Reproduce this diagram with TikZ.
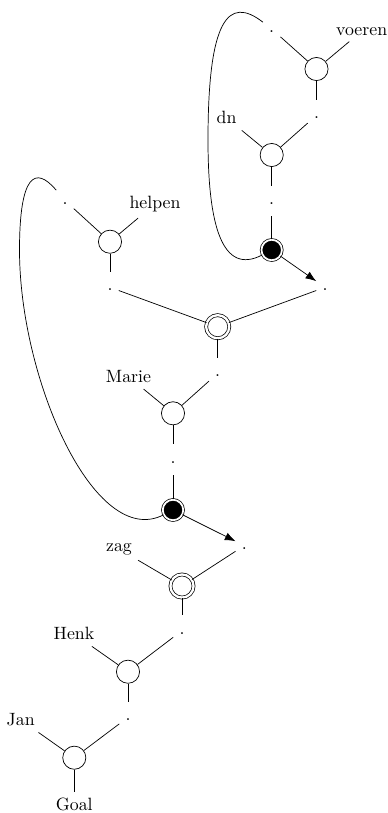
\documentclass[tikz,border=0pt]{standalone}
\usetikzlibrary{arrows.meta}
\begin{document}
\begin{tikzpicture}[x=0.5618pt,y=-0.5618pt,
  circ/.style={circle,draw,minimum size=13pt,inner sep=0pt},
  dcirc/.style={circle,draw,double,double distance=1.3pt,minimum size=13pt,inner sep=0pt},
  bcirc/.style={circle,draw,double,double distance=1pt,fill=black,minimum size=11.5pt,inner sep=0pt},
  dotn/.style={inner sep=3.33pt,text height=7pt,text depth=3pt},
  lbl/.style={inner sep=3.33pt},
  arr/.style={-{Latex[length=6pt,width=4.5pt]}}]
\useasboundingbox (0,0) rectangle (388,813);
% nodes
\node[dotn] (d1) at (271.7,29) {.};
\node[lbl] (voeren) at (361.7,31.2) {voeren};
\node[circ] (c1) at (316.5,69) {};
\node[dotn] (d2) at (316.5,115.3) {.};
\node[lbl] (dn) at (226.5,117.8) {dn};
\node[circ] (c2) at (271.7,155) {};
\node[dotn] (d3) at (271.7,201.3) {.};
\node[bcirc] (b1) at (271.7,250) {};
\node[dotn] (d4) at (325,287.3) {.};
\node[dotn] (d5) at (65,200.6) {.};
\node[lbl] (helpen) at (155,203.9) {helpen};
\node[circ] (c3) at (110,241.7) {};
\node[dotn] (d6) at (110,287.3) {.};
\node[dcirc] (dc1) at (217.7,326.7) {};
\node[lbl] (marie) at (128.5,376.6) {Marie};
\node[dotn] (d7) at (217.7,373.3) {.};
\node[circ] (c4) at (173,413.3) {};
\node[dotn] (d8) at (173,459.6) {.};
\node[bcirc] (b2) at (173,510) {};
\node[dotn] (d9) at (244.3,545.6) {.};
\node[lbl] (zag) at (119,549) {zag};
\node[dcirc] (dc2) at (182,586) {};
\node[dotn] (d10) at (182,630.6) {.};
\node[lbl] (henk) at (74,633.8) {Henk};
\node[circ] (c5) at (128,671.7) {};
\node[dotn] (d11) at (128,717.3) {.};
\node[lbl] (jan) at (20.7,719.9) {Jan};
\node[circ] (c6) at (74.3,757.7) {};
\node[lbl] (goal) at (74.3,804.8) {Goal};
% tree edges
\draw (c1) -- (d1);
\draw (c1) -- (voeren);
\draw (c1) -- (d2);
\draw (c2) -- (dn);
\draw (c2) -- (d2);
\draw (c2) -- (d3);
\draw (b1) -- (d3);
\draw[arr] (b1) -- (d4);
\draw (c3) -- (d5);
\draw (c3) -- (helpen);
\draw (c3) -- (d6);
\draw (dc1) -- (d6);
\draw (dc1) -- (d4);
\draw (dc1) -- (d7);
\draw (c4) -- (marie);
\draw (c4) -- (d7);
\draw (c4) -- (d8);
\draw (b2) -- (d8);
\draw[arr] (b2) -- (d9);
\draw (dc2) -- (zag);
\draw (dc2) -- (d9);
\draw (dc2) -- (d10);
\draw (c5) -- (henk);
\draw (c5) -- (d10);
\draw (c5) -- (d11);
\draw (c6) -- (jan);
\draw (c6) -- (d11);
\draw (c6) -- (goal);
% loops
\coordinate (m1) at (208,140);
\draw (b1) .. controls (222,276) and (208,225) .. (m1) .. controls (208,20) and (228,-5) .. (d1);
\coordinate (m2) at (19.5,250);
\draw (b2) .. controls (95,550) and (19.5,380) .. (m2) .. controls (19.5,175) and (35,165) .. (d5);
\end{tikzpicture}
\end{document}
